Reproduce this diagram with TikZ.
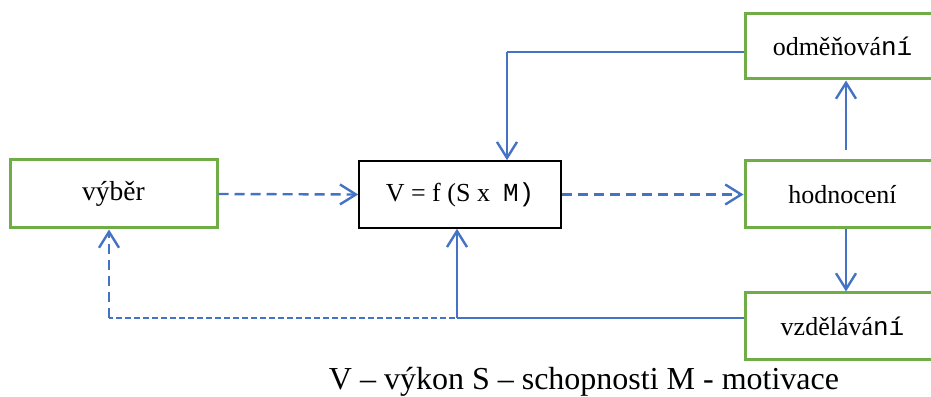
\documentclass[tikz,border=0pt]{standalone}
\usepackage{fontspec}
\setmainfont{Liberation Serif}
\setmonofont{Liberation Mono}
\usepackage{xcolor}
\usepackage{tikz}
\usetikzlibrary{calc,arrows.meta,positioning}
\definecolor{flowBlue}{RGB}{68,114,196}
\definecolor{flowGreen}{RGB}{112,173,71}

\tikzset{
  greenbox/.style={draw=flowGreen, line width=3pt, minimum width=195pt, minimum height=65pt, inner sep=0pt, font=\fontsize{26}{30}\selectfont},
  mainbox/.style={draw=black, line width=1.6pt, minimum width=202pt, minimum height=67pt, inner sep=0pt, font=\fontsize{26}{30}\selectfont},
  flowarrow/.style={draw=flowBlue, line width=2.4pt, -{Straight Barb[length=16pt,width=20pt]}},
  flowline/.style={draw=flowBlue, line width=1.4pt},
  dashedarrow/.style={flowarrow, dash pattern=on 10pt off 6pt},
  thindash/.style={draw=flowBlue, line width=1.2pt, dash pattern=on 6pt off 3pt}
}

\begin{document}
\begin{tikzpicture}[x=1pt,y=1pt]
\useasboundingbox (0,0) rectangle (931,396);
% boxes
\node[greenbox, minimum width=207pt, minimum height=68pt, font=\fontsize{27.5}{30}\selectfont] (vyber) at (113.5,202) {výběr};
\node[mainbox] (vzorec) at (460,201.5) {V = f (S x \ \texttt{M)}};
\node[greenbox] (odmenovani) at (842.5,349.5) {odměňová\texttt{ní}};
\node[greenbox, minimum height=67pt] (hodnoceni) at (842.5,201.5) {hodnocení};
\node[greenbox, minimum height=67pt] (vzdelavani) at (842.5,69.5) {vzdělává\texttt{ní}};
% bends
\coordinate (bendtop) at (507,344);
\coordinate (bendbot) at (457,78);
\coordinate (dashstart) at (473,78);
\coordinate (dashcorner) at (109,78);
% connectors
\draw[dashedarrow] (vyber.east) -- (vzorec.west);
\draw[dashedarrow] (vzorec.east) -- (hodnoceni.west);
\draw[flowarrow] ([xshift=3.5pt,yshift=9pt]hodnoceni.north) -- ([xshift=3.5pt]odmenovani.south);
\draw[flowarrow] ([xshift=3.5pt]hodnoceni.south) -- ([xshift=3.5pt]vzdelavani.north);
\draw[flowline] ([yshift=-5.5pt]odmenovani.west) -- (bendtop);
\draw[flowarrow] (bendtop) -- (bendtop |- vzorec.north);
\draw[flowline] ([yshift=8.5pt]vzdelavani.west) -- (bendbot);
\draw[flowarrow] (bendbot) -- (bendbot |- vzorec.south);
\draw[thindash] (dashstart) -- (dashcorner);
\draw[dashedarrow] (dashcorner) -- (dashcorner |- vyber.south);
% legend
\node[anchor=base, font=\fontsize{32}{36}\selectfont] (legenda) at (584,6) {V – výkon S – schopnosti M - motivace};
\end{tikzpicture}
\end{document}
